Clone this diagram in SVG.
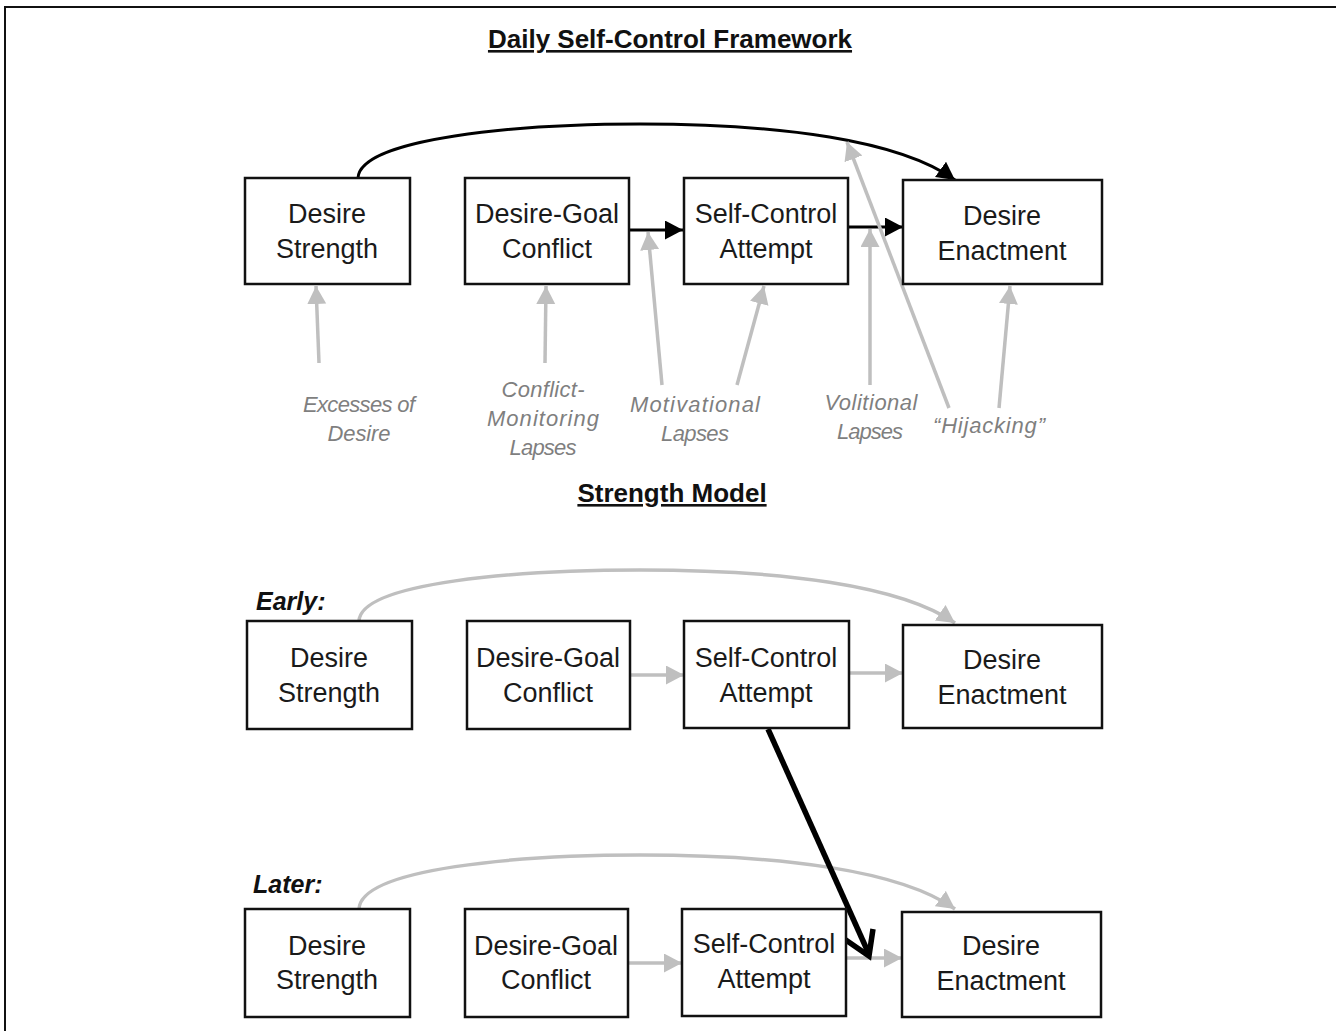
<svg xmlns="http://www.w3.org/2000/svg" width="1336" height="1031" viewBox="0 0 1336 1031">
<style>
.box{fill:#fff;stroke:#111;stroke-width:2.5}
.nt{font-family:"Liberation Sans",Arial,sans-serif;font-size:27px;fill:#1a1a1a;text-anchor:middle}
.lb{font-family:"Liberation Sans",Arial,sans-serif;font-size:22px;font-style:italic;fill:#7f7f7f;text-anchor:middle}
.ttl{font-family:"Liberation Sans",Arial,sans-serif;font-size:26px;font-weight:bold;fill:#111;text-anchor:middle;text-decoration:underline}
.ph{font-family:"Liberation Sans",Arial,sans-serif;font-size:25px;font-weight:bold;font-style:italic;fill:#111}
.blk{fill:none;stroke:#000;stroke-width:3}
.gry{fill:none;stroke:#bfbfbf;stroke-width:3.5}
</style>
<defs>
<marker id="ab" markerUnits="userSpaceOnUse" markerWidth="20" markerHeight="20" refX="18" refY="9.5" orient="auto"><path d="M0,0 L18,9.5 L0,19 z" fill="#000"/></marker>
<marker id="ag" markerUnits="userSpaceOnUse" markerWidth="20" markerHeight="20" refX="18" refY="9.5" orient="auto"><path d="M0,0 L18,9.5 L0,19 z" fill="#bfbfbf"/></marker>
</defs>
<rect width="1336" height="1031" fill="#fff"/>
<path d="M5,1031 V7 H1336" fill="none" stroke="#111" stroke-width="2"/>
<text class="ttl" x="670" y="48">Daily Self-Control Framework</text>
<text class="ttl" x="672" y="502">Strength Model</text>
<text class="ph" x="256" y="610">Early:</text>
<text class="ph" x="253" y="893">Later:</text>

<g id="connectors">
<path class="blk" d="M358,178 C360,138 520,124 640,124 C780,124 900,140 955,180" marker-end="url(#ab)"/>
<path class="blk" d="M630,230 H683" marker-end="url(#ab)"/>
<path class="blk" d="M848,227 H903" marker-end="url(#ab)"/>
<path class="gry" d="M319,363 L316,286" marker-end="url(#ag)"/>
<path class="gry" d="M545,363 L546,286" marker-end="url(#ag)"/>
<path class="gry" d="M662,385 L648,232" marker-end="url(#ag)"/>
<path class="gry" d="M737,385 L764,286" marker-end="url(#ag)"/>
<path class="gry" d="M870,385 L870,229" marker-end="url(#ag)"/>
<path class="gry" d="M949,408 L847,142" marker-end="url(#ag)"/>
<path class="gry" d="M999,408 L1010,286" marker-end="url(#ag)"/>

<path class="gry" d="M359,621 C361,582 520,570 640,570 C780,570 900,585 955,623" marker-end="url(#ag)"/>
<path class="gry" d="M631,675 H684" marker-end="url(#ag)"/>
<path class="gry" d="M849,673 H903" marker-end="url(#ag)"/>

<path class="gry" d="M359,909 C361,868 520,855 640,855 C780,855 900,870 955,909" marker-end="url(#ag)"/>
<path class="gry" d="M628,963 H682" marker-end="url(#ag)"/>
<path class="gry" d="M846,958 H902" marker-end="url(#ag)"/>

<path d="M768,729 L868,952" fill="none" stroke="#000" stroke-width="5.5"/>
<path d="M840,936 L869,956 L873,929" fill="none" stroke="#000" stroke-width="5.5" stroke-linejoin="miter"/>
</g>

<g id="labels">
<text class="lb" x="359" y="412" textLength="112" lengthAdjust="spacing">Excesses of</text>
<text class="lb" x="359" y="441" textLength="63" lengthAdjust="spacing">Desire</text>
<text class="lb" x="543" y="397" textLength="83" lengthAdjust="spacing">Conflict-</text>
<text class="lb" x="543" y="426" textLength="112" lengthAdjust="spacing">Monitoring</text>
<text class="lb" x="543" y="455" textLength="67" lengthAdjust="spacing">Lapses</text>
<text class="lb" x="695" y="412" textLength="130" lengthAdjust="spacing">Motivational</text>
<text class="lb" x="695" y="441" textLength="68" lengthAdjust="spacing">Lapses</text>
<text class="lb" x="871" y="410" textLength="93" lengthAdjust="spacing">Volitional</text>
<text class="lb" x="870" y="439" textLength="66" lengthAdjust="spacing">Lapses</text>
<text class="lb" x="989" y="433" textLength="112" lengthAdjust="spacing">“Hijacking”</text>
</g>

<g id="t-desire-strength"><rect class="box" x="245" y="178" width="165" height="106"/><text class="nt" x="327" y="223">Desire</text><text class="nt" x="327" y="258">Strength</text></g>
<g id="t-desire-goal"><rect class="box" x="465" y="178" width="164" height="106"/><text class="nt" x="547" y="223">Desire-Goal</text><text class="nt" x="547" y="258">Conflict</text></g>
<g id="t-self-control"><rect class="box" x="684" y="178" width="164" height="106"/><text class="nt" x="766" y="223">Self-Control</text><text class="nt" x="766" y="258">Attempt</text></g>
<g id="t-desire-enactment"><rect class="box" x="903" y="180" width="199" height="104"/><text class="nt" x="1002" y="225">Desire</text><text class="nt" x="1002" y="260">Enactment</text></g>

<g id="e-desire-strength"><rect class="box" x="247" y="621" width="165" height="108"/><text class="nt" x="329" y="667">Desire</text><text class="nt" x="329" y="702">Strength</text></g>
<g id="e-desire-goal"><rect class="box" x="467" y="621" width="163" height="108"/><text class="nt" x="548" y="667">Desire-Goal</text><text class="nt" x="548" y="702">Conflict</text></g>
<g id="e-self-control"><rect class="box" x="684" y="621" width="165" height="107"/><text class="nt" x="766" y="667">Self-Control</text><text class="nt" x="766" y="702">Attempt</text></g>
<g id="e-desire-enactment"><rect class="box" x="903" y="625" width="199" height="103"/><text class="nt" x="1002" y="669">Desire</text><text class="nt" x="1002" y="704">Enactment</text></g>

<g id="l-desire-strength"><rect class="box" x="245" y="909" width="165" height="108"/><text class="nt" x="327" y="955">Desire</text><text class="nt" x="327" y="989">Strength</text></g>
<g id="l-desire-goal"><rect class="box" x="465" y="909" width="163" height="108"/><text class="nt" x="546" y="955">Desire-Goal</text><text class="nt" x="546" y="989">Conflict</text></g>
<g id="l-self-control"><rect class="box" x="682" y="909" width="164" height="107"/><text class="nt" x="764" y="953">Self-Control</text><text class="nt" x="764" y="988">Attempt</text></g>
<g id="l-desire-enactment"><rect class="box" x="902" y="912" width="199" height="105"/><text class="nt" x="1001" y="955">Desire</text><text class="nt" x="1001" y="990">Enactment</text></g>
</svg>
